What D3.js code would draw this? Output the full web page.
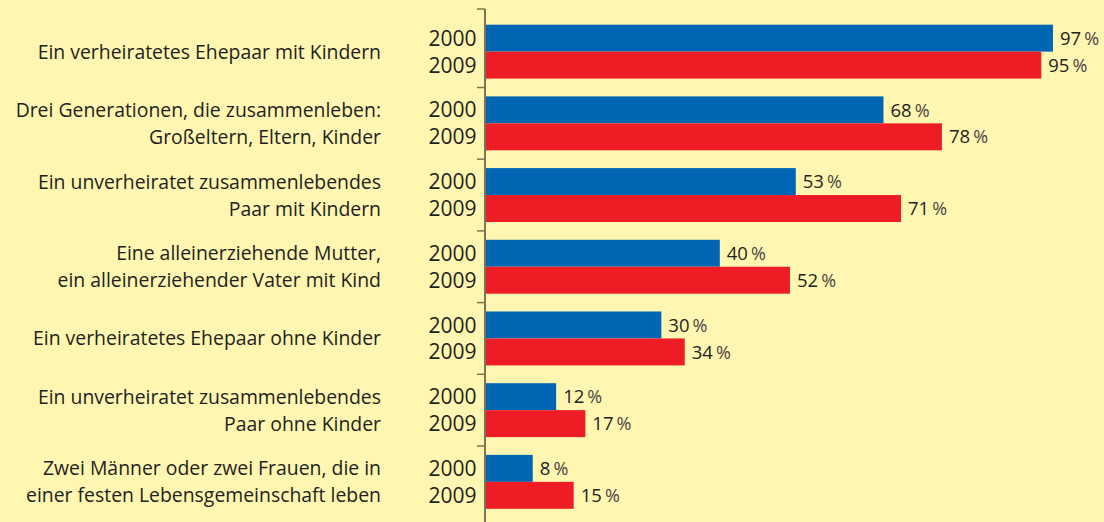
<!DOCTYPE html>
<html>
<head>
<meta charset="utf-8">
<script src="https://cdnjs.cloudflare.com/ajax/libs/d3/7.8.5/d3.min.js"></script>
<style>
  html, body { margin: 0; padding: 0; background: #fff6b1; }
  svg { display: block; font-family: "Open Sans", "Noto Sans", sans-serif; }
</style>
</head>
<body>
<div id="chart"></div>
<script>
// categories (each label may span two lines)
var categories = [
    ["Ein verheiratetes Ehepaar mit Kindern"],
    ["Drei Generationen, die zusammenleben:", "Großeltern, Eltern, Kinder"],
    ["Ein unverheiratet zusammenlebendes", "Paar mit Kindern"],
    ["Eine alleinerziehende Mutter,", "ein alleinerziehender Vater mit Kind"],
    ["Ein verheiratetes Ehepaar ohne Kinder"],
    ["Ein unverheiratet zusammenlebendes", "Paar ohne Kinder"],
    ["Zwei Männer oder zwei Frauen, die in", "einer festen Lebensgemeinschaft leben"]
];
var years = ["2000", "2009"];
var values2000 = [97, 68, 53, 40, 30, 12, 8];
var values2009 = [95, 78, 71, 52, 34, 17, 15];

var width = 1104, height = 522;
var colors = {"2000": "#0066b3", "2009": "#ee1c25"};

var svg = d3.select("#chart").append("svg")
    .attr("width", width)
    .attr("height", height);

svg.append("rect")
    .attr("width", width).attr("height", height)
    .attr("fill", "#fff6b1");

var idx = d3.range(categories.length);

// band per category group
var y = d3.scaleBand()
    .domain(idx)
    .range([15.8, 517.7])
    .paddingInner(0)
    .paddingOuter(0);

// bars inside the group
var yInner = d3.scaleBand()
    .domain(years)
    .range([0, y.bandwidth()])
    .paddingOuter(0.33)
    .paddingInner(0);

var x = d3.scaleLinear()
    .domain([0, 100])
    .range([486, 1070.5]);

var rows = [];
idx.forEach(function(i) {
    rows.push({i: i, year: "2000", v: values2000[i]});
    rows.push({i: i, year: "2009", v: values2009[i]});
});

// bars
svg.selectAll(".bar")
    .data(rows)
    .enter().append("rect")
    .attr("class", "bar")
    .attr("x", x(0))
    .attr("y", function(d) { return y(d.i) + yInner(d.year); })
    .attr("width", function(d) { return x(d.v) - x(0); })
    .attr("height", yInner.bandwidth())
    .attr("fill", function(d) { return colors[d.year]; });

// value labels
var vl = svg.selectAll(".val")
    .data(rows)
    .enter().append("text")
    .attr("class", "val")
    .attr("x", function(d) { return x(d.v) + 7; })
    .attr("y", function(d) { return y(d.i) + yInner(d.year) + yInner.bandwidth() / 2; })
    .attr("dy", "0.36em")
    .attr("fill", "#231f20")
    .style("font-size", "18.5px");
vl.append("tspan").text(function(d) { return d.v + "\u2009"; });
vl.append("tspan").attr("fill", "#4a4545").style("font-size", "18px").text("%");

// year labels
svg.selectAll(".year")
    .data(rows)
    .enter().append("text")
    .attr("class", "year")
    .attr("x", 476.5)
    .attr("y", function(d) { return y(d.i) + yInner(d.year) + yInner.bandwidth() / 2; })
    .attr("dy", "0.36em")
    .attr("text-anchor", "end")
    .attr("fill", "#231f20")
    .style("font-size", "21px")
    .text(function(d) { return d.year; });

// category labels
var lineH = 27;
var cl = svg.selectAll(".cat")
    .data(idx)
    .enter().append("text")
    .attr("class", "cat")
    .attr("text-anchor", "end")
    .attr("fill", "#231f20")
    .style("font-size", "19.4px");
cl.each(function(i) {
    var lines = categories[i];
    var mid = y(i) + y.bandwidth() / 2;
    var t = d3.select(this);
    lines.forEach(function(s, k) {
        t.append("tspan")
            .attr("x", 381)
            .attr("y", mid + (k - (lines.length - 1) / 2) * lineH)
            .attr("dy", "0.36em")
            .text(s);
    });
});

// axis line with ticks between groups
var axisColor = "#7d7355";
svg.append("line")
    .attr("x1", 485).attr("x2", 485)
    .attr("y1", 9).attr("y2", height)
    .attr("stroke", axisColor)
    .attr("stroke-width", 2);

var tickYs = [9].concat(idx.slice(1).map(function(i) { return y(i); }));
svg.selectAll(".tick")
    .data(tickYs)
    .enter().append("line")
    .attr("class", "tick")
    .attr("x1", 477).attr("x2", 485)
    .attr("y1", function(d) { return d; })
    .attr("y2", function(d) { return d; })
    .attr("stroke", axisColor)
    .attr("stroke-width", 1.5);
</script>
</body>
</html>
